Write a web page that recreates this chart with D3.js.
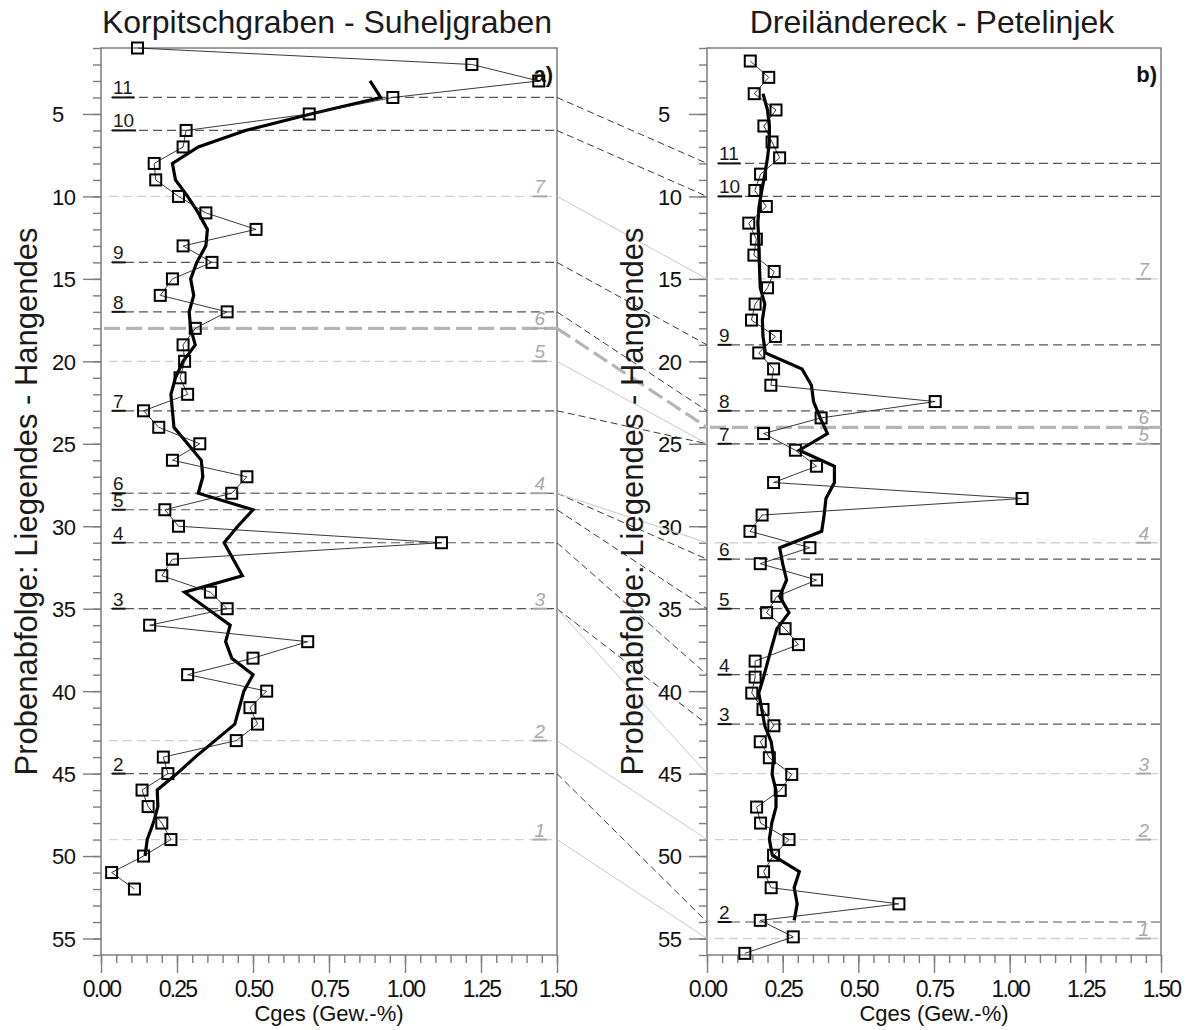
<!DOCTYPE html>
<html>
<head>
<meta charset="utf-8">
<script src="https://cdn.jsdelivr.net/npm/d3@7"></script>
<style>
  body { margin: 0; background: #fff; }
  text { font-family: "Liberation Sans", Arial, sans-serif; }
</style>
</head>
<body>
<svg id="chart" width="1189" height="1030"></svg>
<script>
// ---- Profile a) Korpitschgraben - Suheljgraben ----
const leftDepth = [1,2,3,4,5,6,7,8,9,10,11,12,13,14,15,16,17,18,19,20,21,22,23,24,25,26,
  27,28,29,30,31,32,33,34,35,36,37,38,39,40,41,42,43,44,45,46,47,48,49,50,51,52];
const leftCges = [0.12,1.22,1.44,0.96,0.685,0.28,0.27,0.175,0.18,0.255,0.345,0.51,0.27,
  0.365,0.235,0.195,0.415,0.31,0.27,0.275,0.26,0.285,0.14,0.19,0.325,0.235,0.48,0.43,
  0.21,0.255,1.12,0.235,0.2,0.36,0.415,0.16,0.68,0.5,0.285,0.545,0.49,0.515,0.445,
  0.205,0.22,0.135,0.155,0.2,0.23,0.14,0.035,0.11];
// running mean (null where not defined)
const leftTrend = [null,null,0.885,0.92,0.69,0.475,0.32,0.235,0.245,0.285,0.32,0.35,0.345,
  0.315,0.295,0.305,0.29,0.295,0.31,0.27,0.245,0.23,0.235,0.24,0.285,0.33,0.335,0.32,
  0.5,0.45,0.405,0.435,0.465,0.275,0.35,0.425,0.41,0.43,0.5,0.47,0.455,0.44,0.375,0.31,
  0.25,0.185,0.187,0.172,0.152,0.145,null,null];

// ---- Profile b) Dreiländereck - Petelinjek ----
const rightDepth = [1.79,2.78,3.77,4.76,5.73,6.70,7.66,8.65,9.64,10.61,11.62,12.59,13.56,
  14.55,15.54,16.53,17.50,18.49,19.49,20.46,21.45,22.44,23.43,24.38,25.39,26.36,27.35,
  28.32,29.32,30.31,31.30,32.27,33.26,34.25,35.24,36.21,37.18,38.18,39.15,40.12,41.11,
  42.10,43.07,44.04,45.05,46.02,47.03,48.00,49.00,49.95,50.95,51.92,52.90,53.90,54.90,55.90];
const rightCges = [0.143,0.204,0.156,0.228,0.188,0.215,0.240,0.177,0.158,0.196,0.138,0.163,
  0.155,0.222,0.200,0.159,0.147,0.226,0.171,0.220,0.211,0.754,0.377,0.187,0.292,0.362,
  0.220,1.041,0.182,0.142,0.340,0.176,0.362,0.231,0.197,0.258,0.302,0.159,0.159,0.148,
  0.185,0.221,0.176,0.206,0.280,0.242,0.164,0.177,0.271,0.220,0.187,0.212,0.634,0.176,
  0.285,0.125];
const rightTrend = [null,null,0.185,0.200,0.206,0.206,0.200,0.191,0.181,0.172,0.168,0.171,
  0.172,0.174,0.176,0.191,0.183,0.185,0.193,0.314,0.345,0.352,0.374,0.398,0.305,0.421,
  0.421,0.393,0.387,0.379,0.240,0.250,0.263,0.240,0.271,0.231,0.216,0.201,0.187,0.171,
  0.181,0.191,0.212,0.220,0.215,0.228,0.228,0.214,0.206,0.216,0.305,0.288,0.298,0.288,
  null,null];

// ---- Correlated marker horizons (black, numbered 2-11) ----
const markerLabels = ["2","3","4","5","6","7","8","9","10","11"];
const leftMarkerDepth = [45,35,31,29,28,23,17,14,6,4];
const rightMarkerDepth = [54,42,39,35,32,25,23,19,10,8];

// ---- Grey horizons (italic, numbered 1-7; "6" is the main boundary) ----
const greyLabels = ["1","2","3","4","5","6","7"];
const leftGreyDepth = [49,43,35,28,20,18,10];
const rightGreyDepth = [55,49,45,31,25,24,15];
const mainBoundary = "6";

// ---- Axes ----
const xMajorTicks = [0, 0.25, 0.5, 0.75, 1.0, 1.25, 1.5];
const yMajorTicks = [5,10,15,20,25,30,35,40,45,50,55];
const yDomain = [1, 56];
const xDomain = [0, 1.5];

const titles = ["Korpitschgraben - Suheljgraben", "Dreiländereck - Petelinjek"];
const panelTags = ["a)", "b)"];
const xTitle = "Cges (Gew.-%)";
const yTitle = "Probenabfolge: Liegendes - Hangendes";

const svg = d3.select("#chart");
const y = d3.scaleLinear().domain(yDomain).range([48, 955]);
const xLeft = d3.scaleLinear().domain(xDomain).range([101, 557]);
const xRight = d3.scaleLinear().domain(xDomain).range([707, 1161]);

const FRAME = "#7d7d7d";

const panels = [
  {x: xLeft, depth: leftDepth, cges: leftCges, trend: leftTrend,
   mDepth: leftMarkerDepth, gDepth: leftGreyDepth, title: titles[0], tag: panelTags[0]},
  {x: xRight, depth: rightDepth, cges: rightCges, trend: rightTrend,
   mDepth: rightMarkerDepth, gDepth: rightGreyDepth, title: titles[1], tag: panelTags[1]}
];

const gLines = svg.append("g");
const gConn = svg.append("g");
const gData = svg.append("g");
const gText = svg.append("g");

// connectors between the two profiles
markerLabels.forEach((lab, i) => {
  gConn.append("line")
    .attr("x1", xLeft(1.5)).attr("y1", y(leftMarkerDepth[i]))
    .attr("x2", xRight(0)).attr("y2", y(rightMarkerDepth[i]))
    .attr("stroke", "#3a3a3a").attr("stroke-width", 1)
    .attr("stroke-dasharray", "7,4");
});
greyLabels.forEach((lab, i) => {
  const main = lab === mainBoundary;
  gConn.append("line")
    .attr("x1", xLeft(1.5)).attr("y1", y(leftGreyDepth[i]))
    .attr("x2", xRight(0)).attr("y2", y(rightGreyDepth[i]))
    .attr("stroke", main ? "#b5b5b5" : "#c8c8c8")
    .attr("stroke-width", main ? 3.2 : 1)
    .attr("stroke-dasharray", main ? "16,6" : null);
});

panels.forEach(p => {
  const x = p.x;
  const x0 = x(0), x1 = x(1.5);
  const g = gLines.append("g");

  // frame
  g.append("rect")
    .attr("x", x0).attr("y", y(1))
    .attr("width", x1 - x0).attr("height", y(56) - y(1))
    .attr("fill", "none").attr("stroke", FRAME).attr("stroke-width", 1.5);

  // y axis: minor + major
  const yMinor = g.append("g").attr("transform", `translate(${x0},0)`)
    .call(d3.axisLeft(y).tickValues(d3.range(1, 57)).tickSize(8).tickFormat(""));
  const yMajor = g.append("g").attr("transform", `translate(${x0},0)`)
    .call(d3.axisLeft(y).tickValues(yMajorTicks).tickSize(18));
  yMajor.selectAll("text")
    .attr("x", -49).attr("text-anchor", "start").attr("dy", "0.36em")
    .attr("font-size", 22).attr("letter-spacing", -0.5)
    .attr("font-family", "Liberation Sans, Arial, sans-serif").attr("fill", "#111");

  // x axis: minor + major
  const xMinor = g.append("g").attr("transform", `translate(0,${y(56)})`)
    .call(d3.axisBottom(x).tickValues(d3.range(0, 1.5001, 0.05)).tickSize(8).tickFormat(""));
  const xMajor = g.append("g").attr("transform", `translate(0,${y(56)})`)
    .call(d3.axisBottom(x).tickValues(xMajorTicks).tickSize(18).tickFormat(d3.format(".2f")));
  xMajor.selectAll("text")
    .attr("y", 42).attr("dy", 0)
    .attr("font-size", 23).attr("letter-spacing", -1.8)
    .attr("font-family", "Liberation Sans, Arial, sans-serif").attr("fill", "#111");

  [yMinor, yMajor, xMinor, xMajor].forEach(a => {
    a.select(".domain").remove();
    a.selectAll(".tick line").attr("stroke", FRAME).attr("stroke-width", 1.4);
  });

  // grey horizons
  greyLabels.forEach((lab, i) => {
    const main = lab === mainBoundary;
    const yy = y(p.gDepth[i]);
    g.append("line")
      .attr("x1", x0 + (main ? 3 : 8)).attr("x2", x1)
      .attr("y1", yy).attr("y2", yy)
      .attr("stroke", main ? "#b5b5b5" : "#cfcfcf")
      .attr("stroke-width", main ? 3.2 : 1.3)
      .attr("stroke-dasharray", main ? "16,6" : "9,5");
    const t = gText.append("text")
      .attr("x", x1 - 12).attr("y", yy - 3)
      .attr("text-anchor", "end")
      .attr("font-size", 19).attr("font-style", "italic")
      .attr("fill", "#a9a9a9").text(lab);
    const w = t.node().getComputedTextLength();
    gText.append("line")
      .attr("x1", x1 - 14 - w).attr("x2", x1 - 10)
      .attr("y1", yy).attr("y2", yy)
      .attr("stroke", "#a9a9a9").attr("stroke-width", 2);
  });

  // black marker horizons
  markerLabels.forEach((lab, i) => {
    const yy = y(p.mDepth[i]);
    g.append("line")
      .attr("x1", x0 + 10).attr("x2", x1)
      .attr("y1", yy).attr("y2", yy)
      .attr("stroke", "#555").attr("stroke-width", 1.2)
      .attr("stroke-dasharray", "9,5");
    const t = gText.append("text")
      .attr("x", x0 + 12).attr("y", yy - 3)
      .attr("font-size", 19).attr("fill", "#1a1a1a").text(lab);
    const w = t.node().getComputedTextLength();
    gText.append("line")
      .attr("x1", x0 + 11).attr("x2", x0 + 14 + w)
      .attr("y1", yy).attr("y2", yy)
      .attr("stroke", "#111").attr("stroke-width", 2);
  });

  // running mean (thick)
  const pts = p.depth.map((d, i) => ({d, c: p.cges[i], t: p.trend[i]}));
  gData.append("path")
    .datum(pts)
    .attr("fill", "none").attr("stroke", "#000").attr("stroke-width", 3.2)
    .attr("stroke-linejoin", "miter")
    .attr("d", d3.line().defined(q => q.t != null).x(q => x(q.t)).y(q => y(q.d)));

  // sample profile (thin)
  gData.append("path")
    .datum(pts)
    .attr("fill", "none").attr("stroke", "#222").attr("stroke-width", 0.9)
    .attr("d", d3.line().x(q => x(q.c)).y(q => y(q.d)));

  // sample markers
  gData.selectAll(null).data(pts).enter().append("rect")
    .attr("x", q => x(q.c) - 5.5).attr("y", q => y(q.d) - 5.5)
    .attr("width", 11).attr("height", 11)
    .attr("fill", "none").attr("stroke", "#000").attr("stroke-width", 2);

  // panel titles and labels
  gText.append("text")
    .attr("x", (x0 + x1) / 2 - 2).attr("y", 33)
    .attr("text-anchor", "middle").attr("font-size", 32).attr("fill", "#1a1a1a")
    .text(p.title);
  gText.append("text")
    .attr("x", x1 - 4).attr("y", 82)
    .attr("text-anchor", "end").attr("font-size", 22).attr("font-weight", "bold")
    .attr("fill", "#111").text(p.tag);
  gText.append("text")
    .attr("x", (x0 + x1) / 2).attr("y", 1021)
    .attr("text-anchor", "middle").attr("font-size", 22).attr("fill", "#111")
    .text(xTitle);
  gText.append("text")
    .attr("transform", `translate(${x0 - 64},${(y(1) + y(56)) / 2}) rotate(-90)`)
    .attr("text-anchor", "middle").attr("font-size", 31).attr("fill", "#1a1a1a")
    .text(yTitle);
});
</script>
</body>
</html>
